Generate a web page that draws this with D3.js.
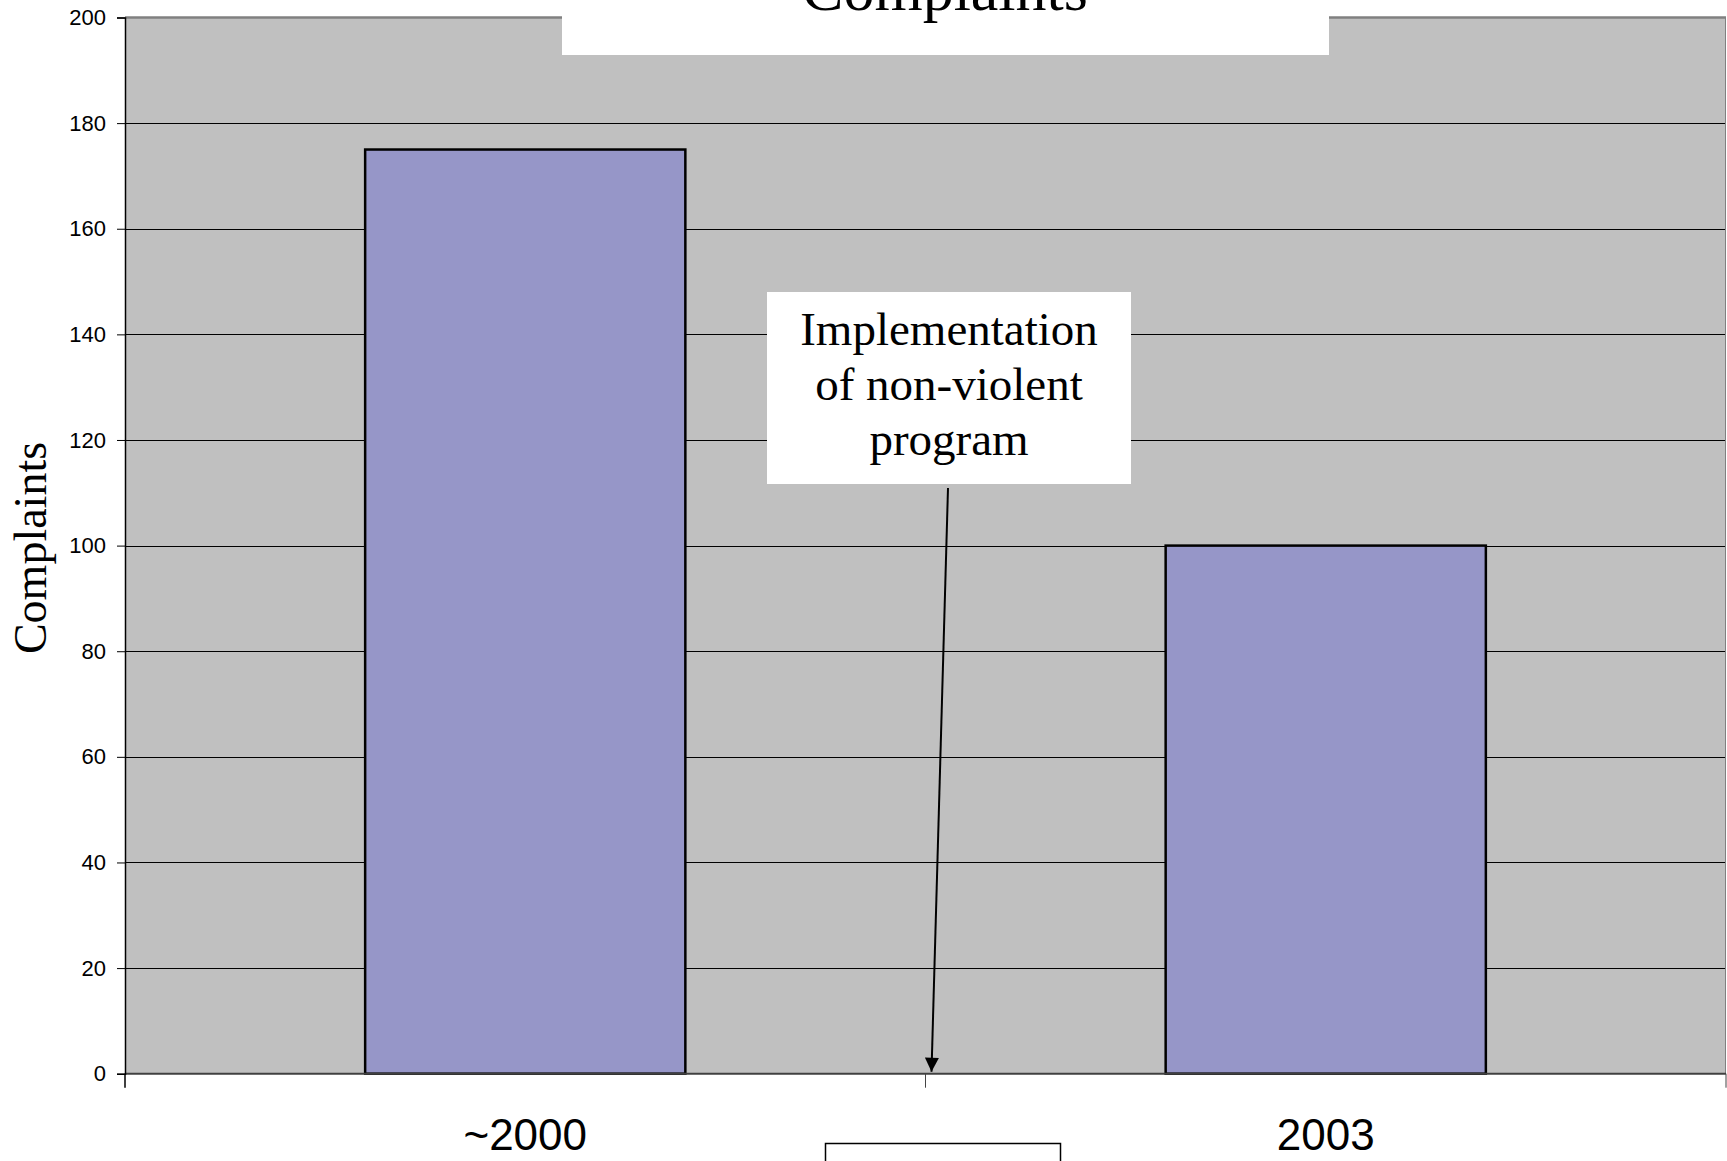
<!DOCTYPE html>
<html lang="en">
  <head>
    <meta charset="UTF-8" />
    <title>Complaints</title>
    <style>
      body { margin: 0; background: #fff; }
      svg { display: block; }
    </style>
  </head>
  <body>
    <svg id="chart" width="1727" height="1161"></svg>
    <script src="https://cdn.jsdelivr.net/npm/d3@7"></script>
    <script>
      var categories = ['~2000', '2003'];
      var complaints = [175, 100];
      var yTicks = [0, 20, 40, 60, 80, 100, 120, 140, 160, 180, 200];
      var noteLines = ['Implementation', 'of non-violent', 'program'];
      var titleText = 'Complaints';
      var yTitle = 'Complaints';

      var width = 1727;
      var height = 1161;
      var plot = { left: 125, right: 1726, top: 17.5, bottom: 1073.7 };

      var svg = d3.select('#chart');

      var x = d3.scaleBand()
        .domain(categories)
        .range([plot.left, plot.right])
        .paddingInner(0.6)
        .paddingOuter(0.3);

      var y = d3.scaleLinear()
        .domain([0, 200])
        .range([plot.bottom, plot.top]);

      // plot area
      svg.append('rect')
        .attr('x', plot.left)
        .attr('y', plot.top)
        .attr('width', plot.right - plot.left)
        .attr('height', plot.bottom - plot.top)
        .attr('fill', '#c0c0c0');

      // gridlines
      svg.append('g')
        .selectAll('line')
        .data(yTicks.filter(d => d > 0 && d < 200))
        .join('line')
        .attr('x1', plot.left)
        .attr('x2', plot.right)
        .attr('y1', d => Math.round(y(d)) + 0.5)
        .attr('y2', d => Math.round(y(d)) + 0.5)
        .attr('stroke', '#000')
        .attr('stroke-width', 1);

      // top / right border
      svg.append('line')
        .attr('x1', plot.left).attr('x2', plot.right)
        .attr('y1', y(200)).attr('y2', y(200))
        .attr('stroke', '#808080').attr('stroke-width', 2.5);
      svg.append('line')
        .attr('x1', plot.right - 0.5).attr('x2', plot.right - 0.5)
        .attr('y1', y(200)).attr('y2', y(0))
        .attr('stroke', '#808080').attr('stroke-width', 1);

      // bars
      svg.append('g')
        .selectAll('rect')
        .data(categories)
        .join('rect')
        .attr('x', d => x(d))
        .attr('y', (d, i) => y(complaints[i]))
        .attr('width', x.bandwidth())
        .attr('height', (d, i) => y(0) - y(complaints[i]))
        .attr('fill', '#9696c8')
        .attr('stroke', '#000')
        .attr('stroke-width', 2.5);

      // bottom axis line
      svg.append('line')
        .attr('x1', plot.left).attr('x2', plot.right)
        .attr('y1', y(0)).attr('y2', y(0))
        .attr('stroke', '#404040').attr('stroke-width', 2);

      // y axis
      var yAxis = svg.append('g')
        .attr('transform', `translate(${plot.left},0)`)
        .call(d3.axisLeft(y).tickValues(yTicks).tickSize(8).tickPadding(11));
      yAxis.select('.domain').attr('stroke', '#000').attr('stroke-width', 1.5);
      yAxis.selectAll('.tick line').attr('stroke', '#000');
      yAxis.selectAll('.tick text')
        .attr('fill', '#000')
        .style('font', '22px "Liberation Sans", Arial, sans-serif');

      // y axis extends below zero as the first category tick
      var step = x.step();
      var boundaries = [plot.left, plot.left + step, plot.right];
      svg.append('g')
        .selectAll('line')
        .data(boundaries)
        .join('line')
        .attr('x1', d => d)
        .attr('x2', d => d)
        .attr('y1', y(0))
        .attr('y2', y(0) + 14)
        .attr('stroke', (d, i) => i === 0 ? '#000' : '#444')
        .attr('stroke-width', (d, i) => i === 0 ? 1.5 : 1);

      // category labels
      svg.append('g')
        .selectAll('text')
        .data(categories)
        .join('text')
        .attr('x', d => x(d) + x.bandwidth() / 2)
        .attr('y', 1150)
        .attr('text-anchor', 'middle')
        .style('font', '44px "Liberation Sans", Arial, sans-serif')
        .text(d => d);

      // y title
      svg.append('text')
        .attr('transform', 'translate(46,548) rotate(-90)')
        .attr('text-anchor', 'middle')
        .style('font', '46px "Liberation Serif", "Times New Roman", serif')
        .text(yTitle);

      // chart title box (cut off at the top, as in the source slide)
      svg.append('rect')
        .attr('x', 562).attr('y', 0)
        .attr('width', 1329 - 562).attr('height', 55)
        .attr('fill', '#fff');
      svg.append('text')
        .attr('x', 945).attr('y', 10)
        .attr('text-anchor', 'middle')
        .style('font', '62px "Liberation Serif", "Times New Roman", serif')
        .text(titleText);

      // annotation box
      svg.append('rect')
        .attr('x', 767).attr('y', 292)
        .attr('width', 1131 - 767).attr('height', 484 - 292)
        .attr('fill', '#fff');
      svg.append('g')
        .selectAll('text')
        .data(noteLines)
        .join('text')
        .attr('x', 949)
        .attr('y', (d, i) => 345 + i * 55)
        .attr('text-anchor', 'middle')
        .style('font', '47px "Liberation Serif", "Times New Roman", serif')
        .text(d => d);

      // arrow from note down to the boundary between the two periods
      svg.append('defs').append('marker')
        .attr('id', 'arrow')
        .attr('viewBox', '0 0 10 10')
        .attr('refX', 10).attr('refY', 5)
        .attr('markerWidth', 18).attr('markerHeight', 14)
        .attr('markerUnits', 'userSpaceOnUse')
        .attr('orient', 'auto')
        .append('path')
        .attr('d', 'M0,0 L10,5 L0,10 Z')
        .attr('fill', '#000');
      var arrowTipX = plot.left + step + 6;
      svg.append('line')
        .attr('x1', 948).attr('y1', 488)
        .attr('x2', arrowTipX).attr('y2', y(0) - 2)
        .attr('stroke', '#000')
        .attr('stroke-width', 2)
        .attr('marker-end', 'url(#arrow)');

      // empty box at the bottom (cut off)
      svg.append('rect')
        .attr('x', 825.5).attr('y', 1143.5)
        .attr('width', 235).attr('height', 40)
        .attr('fill', '#fff')
        .attr('stroke', '#000')
        .attr('stroke-width', 1.5);
    </script>
  </body>
</html>
